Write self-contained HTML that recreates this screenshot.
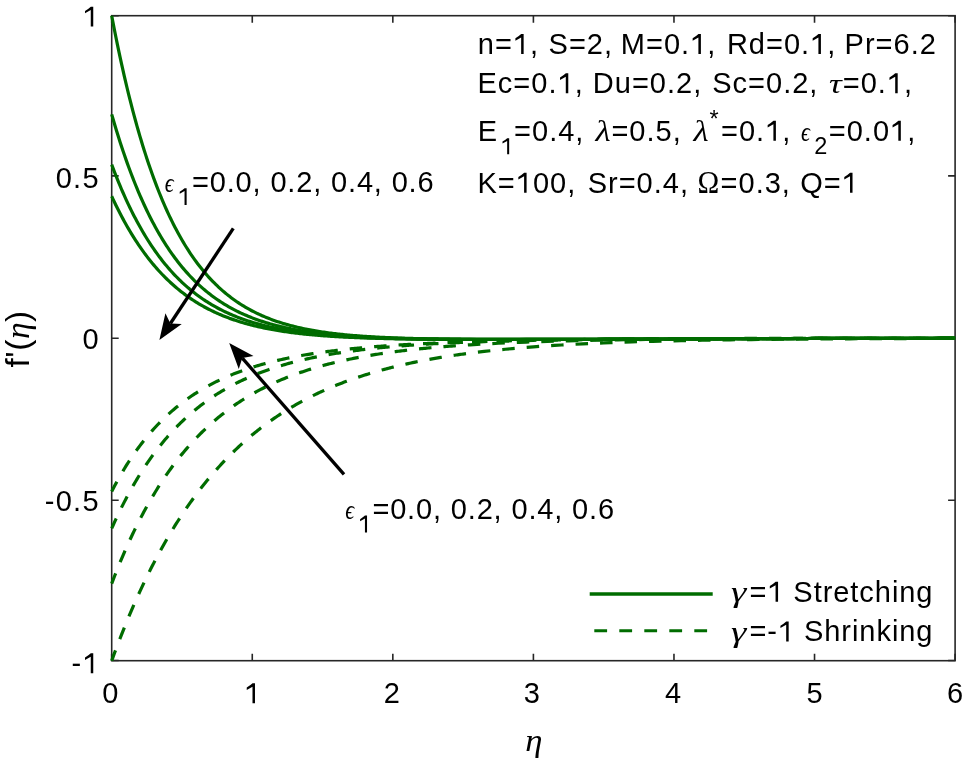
<!DOCTYPE html><html><head><meta charset="utf-8"><style>
html,body{margin:0;padding:0;background:#fff;width:968px;height:762px;overflow:hidden}
svg{display:block;will-change:transform}
text{font-family:"Liberation Sans",sans-serif;fill:#000;font-kerning:none}
.gk{font-family:"Liberation Serif",serif;font-style:italic}
.gu{font-family:"Liberation Serif",serif}
.o1{fill:none}
</style></head><body>
<svg width="968" height="762" viewBox="0 0 968 762">
<rect width="968" height="762" fill="#fff"/>
<g stroke="#262626" stroke-width="1.6" fill="none">
<rect x="111.70" y="15.70" width="843.40" height="645.00"/>
<path d="M111.70 660.70V653.70 M111.70 15.70V22.70 M252.27 660.70V653.70 M252.27 15.70V22.70 M392.83 660.70V653.70 M392.83 15.70V22.70 M533.40 660.70V653.70 M533.40 15.70V22.70 M673.97 660.70V653.70 M673.97 15.70V22.70 M814.53 660.70V653.70 M814.53 15.70V22.70 M955.10 660.70V653.70 M955.10 15.70V22.70 M111.70 15.70H118.70 M955.10 15.70H948.10 M111.70 175.90H118.70 M955.10 175.90H948.10 M111.70 338.20H118.70 M955.10 338.20H948.10 M111.70 500.20H118.70 M955.10 500.20H948.10 M111.70 660.50H118.70 M955.10 660.50H948.10 "/>
</g>
<g fill="none" stroke="#006c00" stroke-width="3.2" stroke-linejoin="round">
<path d="M111.70 660.70 L113.11 656.84 L114.51 653.02 L115.92 649.25 L117.32 645.52 L118.73 641.84 L120.13 638.21 L121.54 634.61 L122.95 631.06 L124.35 627.55 L125.76 624.09 L127.16 620.66 L128.57 617.28 L129.97 613.94 L131.38 610.64 L132.78 607.37 L134.19 604.15 L135.60 600.96 L137.00 597.82 L138.41 594.71 L139.81 591.63 L141.22 588.60 L142.62 585.60 L144.03 582.64 L145.44 579.71 L146.84 576.82 L148.25 573.96 L149.65 571.13 L151.06 568.34 L152.46 565.59 L153.87 562.86 L155.28 560.17 L156.68 557.51 L158.09 554.89 L159.49 552.29 L160.90 549.73 L162.30 547.19 L163.71 544.69 L165.12 542.22 L166.52 539.77 L167.93 537.36 L169.33 534.97 L170.74 532.62 L172.14 530.29 L173.55 527.99 L174.95 525.71 L176.36 523.47 L177.77 521.25 L179.17 519.06 L180.58 516.89 L181.98 514.75 L183.39 512.64 L184.79 510.55 L186.20 508.48 L187.61 506.44 L189.01 504.43 L190.42 502.44 L191.82 500.47 L193.23 498.53 L194.63 496.60 L196.04 494.71 L197.45 492.83 L198.85 490.98 L200.26 489.15 L201.66 487.34 L203.07 485.56 L204.47 483.79 L205.88 482.05 L207.29 480.32 L208.69 478.62 L210.10 476.94 L211.50 475.28 L212.91 473.64 L214.31 472.01 L215.72 470.41 L217.12 468.83 L218.53 467.26 L219.94 465.72 L221.34 464.19 L222.75 462.68 L224.15 461.19 L225.56 459.72 L226.96 458.26 L228.37 456.82 L229.78 455.40 L231.18 454.00 L232.59 452.61 L233.99 451.24 L235.40 449.89 L236.80 448.55 L238.21 447.23 L239.62 445.92 L241.02 444.63 L242.43 443.36 L243.83 442.10 L245.24 440.85 L246.64 439.62 L248.05 438.41 L249.46 437.21 L250.86 436.02 L252.27 434.85 L253.67 433.69 L255.08 432.55 L256.48 431.42 L257.89 430.30 L259.30 429.20 L260.70 428.11 L262.11 427.03 L263.51 425.97 L264.92 424.92 L266.32 423.88 L267.73 422.85 L269.13 421.84 L270.54 420.84 L271.95 419.85 L273.35 418.87 L274.76 417.90 L276.16 416.95 L277.57 416.00 L278.97 415.07 L280.38 414.15 L281.79 413.24 L283.19 412.34 L284.60 411.46 L286.00 410.58 L287.41 409.71 L288.81 408.85 L290.22 408.01 L291.63 407.17 L293.03 406.35 L294.44 405.53 L295.84 404.72 L297.25 403.93 L298.65 403.14 L300.06 402.36 L301.47 401.59 L302.87 400.83 L304.28 400.08 L305.68 399.34 L307.09 398.61 L308.49 397.89 L309.90 397.17 L311.30 396.47 L312.71 395.77 L314.12 395.08 L315.52 394.40 L316.93 393.72 L318.33 393.06 L319.74 392.40 L321.14 391.75 L322.55 391.11 L323.96 390.48 L325.36 389.85 L326.77 389.23 L328.17 388.62 L329.58 388.02 L330.98 387.42 L332.39 386.83 L333.80 386.25 L335.20 385.67 L336.61 385.10 L338.01 384.54 L339.42 383.99 L340.82 383.44 L342.23 382.90 L343.64 382.36 L345.04 381.83 L346.45 381.31 L347.85 380.79 L349.26 380.28 L350.66 379.78 L352.07 379.28 L353.47 378.79 L354.88 378.30 L356.29 377.82 L357.69 377.35 L359.10 376.88 L360.50 376.42 L361.91 375.96 L363.31 375.51 L364.72 375.06 L366.13 374.62 L367.53 374.18 L368.94 373.75 L370.34 373.32 L371.75 372.90 L373.15 372.49 L374.56 372.08 L375.97 371.67 L377.37 371.27 L378.78 370.87 L380.18 370.48 L381.59 370.10 L382.99 369.71 L384.40 369.34 L385.80 368.96 L387.21 368.60 L388.62 368.23 L390.02 367.87 L391.43 367.52 L392.83 367.17 L394.24 366.82 L395.64 366.48 L397.05 366.14 L398.46 365.80 L399.86 365.47 L401.27 365.15 L402.67 364.82 L404.08 364.50 L405.48 364.19 L406.89 363.88 L408.30 363.57 L409.70 363.27 L411.11 362.97 L412.51 362.67 L413.92 362.38 L415.32 362.09 L416.73 361.80 L418.14 361.52 L419.54 361.24 L420.95 360.96 L422.35 360.69 L423.76 360.42 L425.16 360.15 L426.57 359.89 L427.97 359.63 L429.38 359.37 L430.79 359.12 L432.19 358.87 L433.60 358.62 L435.00 358.38 L436.41 358.14 L437.81 357.90 L439.22 357.66 L440.63 357.43 L442.03 357.20 L443.44 356.97 L444.84 356.75 L446.25 356.52 L447.65 356.30 L449.06 356.09 L450.47 355.87 L451.87 355.66 L453.28 355.45 L454.68 355.25 L456.09 355.04 L457.49 354.84 L458.90 354.64 L460.31 354.44 L461.71 354.25 L463.12 354.06 L470.14 353.13 L477.17 352.26 L484.20 351.43 L491.23 350.66 L498.26 349.93 L505.29 349.25 L512.32 348.60 L519.34 347.99 L526.37 347.42 L533.40 346.88 L540.43 346.37 L547.46 345.90 L554.49 345.45 L561.51 345.02 L568.54 344.62 L575.57 344.25 L582.60 343.89 L589.63 343.56 L596.65 343.25 L603.68 342.95 L610.71 342.67 L617.74 342.41 L624.77 342.17 L631.80 341.93 L638.83 341.72 L645.85 341.51 L652.88 341.32 L659.91 341.13 L666.94 340.96 L673.97 340.80 L681.00 340.65 L688.02 340.51 L695.05 340.37 L702.08 340.24 L709.11 340.12 L716.14 340.01 L723.16 339.91 L730.19 339.81 L737.22 339.71 L744.25 339.62 L751.28 339.54 L758.31 339.46 L765.34 339.39 L772.36 339.32 L779.39 339.25 L786.42 339.19 L793.45 339.13 L800.48 339.08 L807.50 339.03 L814.53 338.98 L821.56 338.93 L828.59 338.89 L835.62 338.85 L842.65 338.81 L849.67 338.78 L856.70 338.74 L863.73 338.71 L870.76 338.68 L877.79 338.65 L884.82 338.63 L891.85 338.60 L898.87 338.58 L905.90 338.56 L912.93 338.54 L919.96 338.52 L926.99 338.50 L934.01 338.48 L941.04 338.46 L948.07 338.45 L955.10 338.43" stroke-dasharray="12.5 12" stroke-dashoffset="1.5"/>
<path d="M111.70 583.62 L113.11 579.92 L114.51 576.28 L115.92 572.69 L117.32 569.16 L118.73 565.68 L120.13 562.26 L121.54 558.89 L122.95 555.58 L124.35 552.31 L125.76 549.10 L127.16 545.94 L128.57 542.82 L129.97 539.75 L131.38 536.73 L132.78 533.76 L134.19 530.84 L135.60 527.96 L137.00 525.12 L138.41 522.33 L139.81 519.58 L141.22 516.87 L142.62 514.21 L144.03 511.58 L145.44 509.00 L146.84 506.46 L148.25 503.95 L149.65 501.49 L151.06 499.06 L152.46 496.67 L153.87 494.31 L155.28 492.00 L156.68 489.71 L158.09 487.47 L159.49 485.25 L160.90 483.08 L162.30 480.93 L163.71 478.82 L165.12 476.74 L166.52 474.69 L167.93 472.68 L169.33 470.69 L170.74 468.73 L172.14 466.81 L173.55 464.91 L174.95 463.05 L176.36 461.21 L177.77 459.40 L179.17 457.61 L180.58 455.86 L181.98 454.13 L183.39 452.43 L184.79 450.75 L186.20 449.10 L187.61 447.47 L189.01 445.87 L190.42 444.29 L191.82 442.74 L193.23 441.21 L194.63 439.70 L196.04 438.22 L197.45 436.76 L198.85 435.32 L200.26 433.90 L201.66 432.51 L203.07 431.13 L204.47 429.78 L205.88 428.45 L207.29 427.13 L208.69 425.84 L210.10 424.56 L211.50 423.31 L212.91 422.07 L214.31 420.86 L215.72 419.66 L217.12 418.48 L218.53 417.31 L219.94 416.17 L221.34 415.04 L222.75 413.93 L224.15 412.83 L225.56 411.75 L226.96 410.69 L228.37 409.65 L229.78 408.61 L231.18 407.60 L232.59 406.60 L233.99 405.61 L235.40 404.64 L236.80 403.69 L238.21 402.75 L239.62 401.82 L241.02 400.90 L242.43 400.00 L243.83 399.12 L245.24 398.24 L246.64 397.38 L248.05 396.54 L249.46 395.70 L250.86 394.88 L252.27 394.07 L253.67 393.27 L255.08 392.48 L256.48 391.71 L257.89 390.94 L259.30 390.19 L260.70 389.45 L262.11 388.72 L263.51 388.00 L264.92 387.29 L266.32 386.59 L267.73 385.91 L269.13 385.23 L270.54 384.56 L271.95 383.90 L273.35 383.25 L274.76 382.62 L276.16 381.99 L277.57 381.37 L278.97 380.76 L280.38 380.15 L281.79 379.56 L283.19 378.98 L284.60 378.40 L286.00 377.83 L287.41 377.27 L288.81 376.72 L290.22 376.18 L291.63 375.65 L293.03 375.12 L294.44 374.60 L295.84 374.09 L297.25 373.58 L298.65 373.09 L300.06 372.60 L301.47 372.12 L302.87 371.64 L304.28 371.17 L305.68 370.71 L307.09 370.26 L308.49 369.81 L309.90 369.37 L311.30 368.93 L312.71 368.50 L314.12 368.08 L315.52 367.66 L316.93 367.25 L318.33 366.85 L319.74 366.45 L321.14 366.05 L322.55 365.67 L323.96 365.29 L325.36 364.91 L326.77 364.54 L328.17 364.17 L329.58 363.81 L330.98 363.46 L332.39 363.11 L333.80 362.76 L335.20 362.42 L336.61 362.09 L338.01 361.76 L339.42 361.43 L340.82 361.11 L342.23 360.80 L343.64 360.48 L345.04 360.18 L346.45 359.87 L347.85 359.58 L349.26 359.28 L350.66 358.99 L352.07 358.71 L353.47 358.42 L354.88 358.15 L356.29 357.87 L357.69 357.60 L359.10 357.34 L360.50 357.08 L361.91 356.82 L363.31 356.56 L364.72 356.31 L366.13 356.06 L367.53 355.82 L368.94 355.58 L370.34 355.34 L371.75 355.11 L373.15 354.88 L374.56 354.65 L375.97 354.43 L377.37 354.21 L378.78 353.99 L380.18 353.78 L381.59 353.56 L382.99 353.36 L384.40 353.15 L385.80 352.95 L387.21 352.75 L388.62 352.55 L390.02 352.36 L391.43 352.17 L392.83 351.98 L394.24 351.79 L395.64 351.61 L397.05 351.43 L398.46 351.25 L399.86 351.07 L401.27 350.90 L402.67 350.73 L404.08 350.56 L405.48 350.39 L406.89 350.23 L408.30 350.07 L409.70 349.91 L411.11 349.75 L412.51 349.60 L413.92 349.44 L415.32 349.29 L416.73 349.15 L418.14 349.00 L419.54 348.85 L420.95 348.71 L422.35 348.57 L423.76 348.43 L425.16 348.30 L426.57 348.16 L427.97 348.03 L429.38 347.90 L430.79 347.77 L432.19 347.64 L433.60 347.52 L435.00 347.39 L436.41 347.27 L437.81 347.15 L439.22 347.03 L440.63 346.92 L442.03 346.80 L443.44 346.69 L444.84 346.58 L446.25 346.46 L447.65 346.36 L449.06 346.25 L450.47 346.14 L451.87 346.04 L453.28 345.93 L454.68 345.83 L456.09 345.73 L457.49 345.63 L458.90 345.53 L460.31 345.44 L461.71 345.34 L463.12 345.25 L470.14 344.80 L477.17 344.38 L484.20 343.98 L491.23 343.61 L498.26 343.27 L505.29 342.94 L512.32 342.64 L519.34 342.36 L526.37 342.09 L533.40 341.84 L540.43 341.61 L547.46 341.39 L554.49 341.19 L561.51 341.00 L568.54 340.82 L575.57 340.65 L582.60 340.50 L589.63 340.35 L596.65 340.21 L603.68 340.08 L610.71 339.96 L617.74 339.85 L624.77 339.74 L631.80 339.65 L638.83 339.55 L645.85 339.47 L652.88 339.39 L659.91 339.31 L666.94 339.24 L673.97 339.17 L681.00 339.11 L688.02 339.05 L695.05 339.00 L702.08 338.95 L709.11 338.90 L716.14 338.86 L723.16 338.81 L730.19 338.77 L737.22 338.74 L744.25 338.70 L751.28 338.67 L758.31 338.64 L765.34 338.61 L772.36 338.59 L779.39 338.56 L786.42 338.54 L793.45 338.52 L800.48 338.50 L807.50 338.48 L814.53 338.46 L821.56 338.44 L828.59 338.43 L835.62 338.41 L842.65 338.40 L849.67 338.39 L856.70 338.37 L863.73 338.36 L870.76 338.35 L877.79 338.34 L884.82 338.33 L891.85 338.33 L898.87 338.32 L905.90 338.31 L912.93 338.30 L919.96 338.30 L926.99 338.29 L934.01 338.28 L941.04 338.28 L948.07 338.27 L955.10 338.27" stroke-dasharray="12.5 12" stroke-dashoffset="1.5"/>
<path d="M111.70 528.47 L113.11 525.31 L114.51 522.19 L115.92 519.13 L117.32 516.13 L118.73 513.17 L120.13 510.27 L121.54 507.41 L122.95 504.61 L124.35 501.85 L125.76 499.15 L127.16 496.48 L128.57 493.87 L129.97 491.30 L131.38 488.77 L132.78 486.29 L134.19 483.85 L135.60 481.45 L137.00 479.09 L138.41 476.78 L139.81 474.50 L141.22 472.26 L142.62 470.06 L144.03 467.90 L145.44 465.78 L146.84 463.69 L148.25 461.64 L149.65 459.62 L151.06 457.64 L152.46 455.69 L153.87 453.77 L155.28 451.89 L156.68 450.03 L158.09 448.21 L159.49 446.42 L160.90 444.67 L162.30 442.94 L163.71 441.24 L165.12 439.57 L166.52 437.92 L167.93 436.31 L169.33 434.72 L170.74 433.16 L172.14 431.63 L173.55 430.12 L174.95 428.63 L176.36 427.18 L177.77 425.74 L179.17 424.33 L180.58 422.95 L181.98 421.59 L183.39 420.25 L184.79 418.93 L186.20 417.63 L187.61 416.36 L189.01 415.11 L190.42 413.88 L191.82 412.67 L193.23 411.48 L194.63 410.31 L196.04 409.16 L197.45 408.03 L198.85 406.91 L200.26 405.82 L201.66 404.74 L203.07 403.68 L204.47 402.64 L205.88 401.62 L207.29 400.62 L208.69 399.63 L210.10 398.65 L211.50 397.70 L212.91 396.76 L214.31 395.83 L215.72 394.92 L217.12 394.02 L218.53 393.14 L219.94 392.28 L221.34 391.43 L222.75 390.59 L224.15 389.77 L225.56 388.96 L226.96 388.16 L228.37 387.38 L229.78 386.61 L231.18 385.85 L232.59 385.10 L233.99 384.37 L235.40 383.65 L236.80 382.94 L238.21 382.24 L239.62 381.55 L241.02 380.88 L242.43 380.21 L243.83 379.56 L245.24 378.92 L246.64 378.28 L248.05 377.66 L249.46 377.05 L250.86 376.45 L252.27 375.86 L253.67 375.27 L255.08 374.70 L256.48 374.14 L257.89 373.58 L259.30 373.03 L260.70 372.50 L262.11 371.97 L263.51 371.45 L264.92 370.94 L266.32 370.44 L267.73 369.94 L269.13 369.45 L270.54 368.97 L271.95 368.50 L273.35 368.04 L274.76 367.58 L276.16 367.13 L277.57 366.69 L278.97 366.26 L280.38 365.83 L281.79 365.41 L283.19 364.99 L284.60 364.59 L286.00 364.19 L287.41 363.79 L288.81 363.40 L290.22 363.02 L291.63 362.64 L293.03 362.27 L294.44 361.91 L295.84 361.55 L297.25 361.20 L298.65 360.85 L300.06 360.51 L301.47 360.17 L302.87 359.84 L304.28 359.52 L305.68 359.20 L307.09 358.88 L308.49 358.57 L309.90 358.26 L311.30 357.96 L312.71 357.67 L314.12 357.38 L315.52 357.09 L316.93 356.81 L318.33 356.53 L319.74 356.26 L321.14 355.99 L322.55 355.72 L323.96 355.46 L325.36 355.20 L326.77 354.95 L328.17 354.70 L329.58 354.46 L330.98 354.22 L332.39 353.98 L333.80 353.75 L335.20 353.52 L336.61 353.29 L338.01 353.07 L339.42 352.85 L340.82 352.63 L342.23 352.42 L343.64 352.21 L345.04 352.00 L346.45 351.80 L347.85 351.60 L349.26 351.41 L350.66 351.21 L352.07 351.02 L353.47 350.83 L354.88 350.65 L356.29 350.47 L357.69 350.29 L359.10 350.11 L360.50 349.94 L361.91 349.77 L363.31 349.60 L364.72 349.43 L366.13 349.27 L367.53 349.11 L368.94 348.95 L370.34 348.80 L371.75 348.64 L373.15 348.49 L374.56 348.34 L375.97 348.20 L377.37 348.05 L378.78 347.91 L380.18 347.77 L381.59 347.63 L382.99 347.50 L384.40 347.36 L385.80 347.23 L387.21 347.10 L388.62 346.97 L390.02 346.85 L391.43 346.72 L392.83 346.60 L394.24 346.48 L395.64 346.36 L397.05 346.25 L398.46 346.13 L399.86 346.02 L401.27 345.91 L402.67 345.80 L404.08 345.69 L405.48 345.58 L406.89 345.48 L408.30 345.38 L409.70 345.27 L411.11 345.17 L412.51 345.08 L413.92 344.98 L415.32 344.88 L416.73 344.79 L418.14 344.70 L419.54 344.60 L420.95 344.51 L422.35 344.43 L423.76 344.34 L425.16 344.25 L426.57 344.17 L427.97 344.08 L429.38 344.00 L430.79 343.92 L432.19 343.84 L433.60 343.76 L435.00 343.68 L436.41 343.61 L437.81 343.53 L439.22 343.46 L440.63 343.39 L442.03 343.31 L443.44 343.24 L444.84 343.17 L446.25 343.10 L447.65 343.04 L449.06 342.97 L450.47 342.90 L451.87 342.84 L453.28 342.77 L454.68 342.71 L456.09 342.65 L457.49 342.59 L458.90 342.53 L460.31 342.47 L461.71 342.41 L463.12 342.35 L470.14 342.07 L477.17 341.82 L484.20 341.58 L491.23 341.35 L498.26 341.14 L505.29 340.94 L512.32 340.76 L519.34 340.59 L526.37 340.43 L533.40 340.28 L540.43 340.14 L547.46 340.01 L554.49 339.89 L561.51 339.78 L568.54 339.67 L575.57 339.58 L582.60 339.48 L589.63 339.40 L596.65 339.32 L603.68 339.24 L610.71 339.17 L617.74 339.11 L624.77 339.05 L631.80 338.99 L638.83 338.94 L645.85 338.89 L652.88 338.84 L659.91 338.80 L666.94 338.76 L673.97 338.72 L681.00 338.69 L688.02 338.66 L695.05 338.63 L702.08 338.60 L709.11 338.57 L716.14 338.55 L723.16 338.52 L730.19 338.50 L737.22 338.48 L744.25 338.46 L751.28 338.45 L758.31 338.43 L765.34 338.41 L772.36 338.40 L779.39 338.39 L786.42 338.37 L793.45 338.36 L800.48 338.35 L807.50 338.34 L814.53 338.33 L821.56 338.32 L828.59 338.31 L835.62 338.31 L842.65 338.30 L849.67 338.29 L856.70 338.29 L863.73 338.28 L870.76 338.28 L877.79 338.27 L884.82 338.27 L891.85 338.26 L898.87 338.26 L905.90 338.25 L912.93 338.25 L919.96 338.25 L926.99 338.24 L934.01 338.24 L941.04 338.24 L948.07 338.24 L955.10 338.23" stroke-dasharray="12.5 12" stroke-dashoffset="1.5"/>
<path d="M111.70 491.39 L113.11 488.67 L114.51 486.01 L115.92 483.40 L117.32 480.83 L118.73 478.32 L120.13 475.85 L121.54 473.43 L122.95 471.06 L124.35 468.73 L125.76 466.45 L127.16 464.21 L128.57 462.01 L129.97 459.85 L131.38 457.74 L132.78 455.66 L134.19 453.62 L135.60 451.62 L137.00 449.66 L138.41 447.74 L139.81 445.85 L141.22 443.99 L142.62 442.18 L144.03 440.39 L145.44 438.64 L146.84 436.92 L148.25 435.23 L149.65 433.58 L151.06 431.95 L152.46 430.36 L153.87 428.79 L155.28 427.26 L156.68 425.75 L158.09 424.27 L159.49 422.81 L160.90 421.39 L162.30 419.99 L163.71 418.61 L165.12 417.26 L166.52 415.94 L167.93 414.64 L169.33 413.36 L170.74 412.11 L172.14 410.88 L173.55 409.67 L174.95 408.48 L176.36 407.31 L177.77 406.17 L179.17 405.05 L180.58 403.94 L181.98 402.86 L183.39 401.80 L184.79 400.75 L186.20 399.73 L187.61 398.72 L189.01 397.73 L190.42 396.76 L191.82 395.80 L193.23 394.87 L194.63 393.95 L196.04 393.04 L197.45 392.15 L198.85 391.28 L200.26 390.42 L201.66 389.58 L203.07 388.76 L204.47 387.94 L205.88 387.15 L207.29 386.36 L208.69 385.59 L210.10 384.84 L211.50 384.09 L212.91 383.36 L214.31 382.64 L215.72 381.94 L217.12 381.25 L218.53 380.57 L219.94 379.90 L221.34 379.24 L222.75 378.59 L224.15 377.96 L225.56 377.34 L226.96 376.72 L228.37 376.12 L229.78 375.53 L231.18 374.95 L232.59 374.38 L233.99 373.81 L235.40 373.26 L236.80 372.72 L238.21 372.19 L239.62 371.66 L241.02 371.15 L242.43 370.64 L243.83 370.14 L245.24 369.65 L246.64 369.17 L248.05 368.70 L249.46 368.23 L250.86 367.78 L252.27 367.33 L253.67 366.89 L255.08 366.45 L256.48 366.02 L257.89 365.60 L259.30 365.19 L260.70 364.78 L262.11 364.39 L263.51 363.99 L264.92 363.61 L266.32 363.23 L267.73 362.85 L269.13 362.49 L270.54 362.13 L271.95 361.77 L273.35 361.42 L274.76 361.08 L276.16 360.74 L277.57 360.41 L278.97 360.08 L280.38 359.76 L281.79 359.44 L283.19 359.13 L284.60 358.83 L286.00 358.53 L287.41 358.23 L288.81 357.94 L290.22 357.65 L291.63 357.37 L293.03 357.09 L294.44 356.82 L295.84 356.55 L297.25 356.29 L298.65 356.03 L300.06 355.78 L301.47 355.52 L302.87 355.28 L304.28 355.03 L305.68 354.79 L307.09 354.56 L308.49 354.33 L309.90 354.10 L311.30 353.87 L312.71 353.65 L314.12 353.44 L315.52 353.22 L316.93 353.01 L318.33 352.80 L319.74 352.60 L321.14 352.40 L322.55 352.20 L323.96 352.01 L325.36 351.82 L326.77 351.63 L328.17 351.44 L329.58 351.26 L330.98 351.08 L332.39 350.90 L333.80 350.73 L335.20 350.56 L336.61 350.39 L338.01 350.22 L339.42 350.06 L340.82 349.90 L342.23 349.74 L343.64 349.58 L345.04 349.43 L346.45 349.28 L347.85 349.13 L349.26 348.98 L350.66 348.84 L352.07 348.69 L353.47 348.55 L354.88 348.42 L356.29 348.28 L357.69 348.15 L359.10 348.02 L360.50 347.89 L361.91 347.76 L363.31 347.63 L364.72 347.51 L366.13 347.39 L367.53 347.27 L368.94 347.15 L370.34 347.03 L371.75 346.92 L373.15 346.80 L374.56 346.69 L375.97 346.58 L377.37 346.47 L378.78 346.37 L380.18 346.26 L381.59 346.16 L382.99 346.06 L384.40 345.95 L385.80 345.86 L387.21 345.76 L388.62 345.66 L390.02 345.57 L391.43 345.47 L392.83 345.38 L394.24 345.29 L395.64 345.20 L397.05 345.11 L398.46 345.03 L399.86 344.94 L401.27 344.86 L402.67 344.78 L404.08 344.69 L405.48 344.61 L406.89 344.53 L408.30 344.46 L409.70 344.38 L411.11 344.30 L412.51 344.23 L413.92 344.15 L415.32 344.08 L416.73 344.01 L418.14 343.94 L419.54 343.87 L420.95 343.80 L422.35 343.73 L423.76 343.67 L425.16 343.60 L426.57 343.54 L427.97 343.47 L429.38 343.41 L430.79 343.35 L432.19 343.28 L433.60 343.22 L435.00 343.16 L436.41 343.11 L437.81 343.05 L439.22 342.99 L440.63 342.93 L442.03 342.88 L443.44 342.82 L444.84 342.77 L446.25 342.72 L447.65 342.66 L449.06 342.61 L450.47 342.56 L451.87 342.51 L453.28 342.46 L454.68 342.41 L456.09 342.36 L457.49 342.32 L458.90 342.27 L460.31 342.22 L461.71 342.18 L463.12 342.13 L470.14 341.91 L477.17 341.71 L484.20 341.51 L491.23 341.33 L498.26 341.16 L505.29 340.99 L512.32 340.84 L519.34 340.69 L526.37 340.55 L533.40 340.42 L540.43 340.30 L547.46 340.18 L554.49 340.07 L561.51 339.97 L568.54 339.87 L575.57 339.78 L582.60 339.69 L589.63 339.61 L596.65 339.53 L603.68 339.46 L610.71 339.39 L617.74 339.32 L624.77 339.26 L631.80 339.20 L638.83 339.15 L645.85 339.09 L652.88 339.04 L659.91 339.00 L666.94 338.95 L673.97 338.91 L681.00 338.87 L688.02 338.83 L695.05 338.80 L702.08 338.77 L709.11 338.73 L716.14 338.71 L723.16 338.68 L730.19 338.65 L737.22 338.63 L744.25 338.60 L751.28 338.58 L758.31 338.56 L765.34 338.54 L772.36 338.52 L779.39 338.50 L786.42 338.49 L793.45 338.47 L800.48 338.45 L807.50 338.44 L814.53 338.43 L821.56 338.41 L828.59 338.40 L835.62 338.39 L842.65 338.38 L849.67 338.37 L856.70 338.36 L863.73 338.35 L870.76 338.34 L877.79 338.34 L884.82 338.33 L891.85 338.32 L898.87 338.31 L905.90 338.31 L912.93 338.30 L919.96 338.30 L926.99 338.29 L934.01 338.29 L941.04 338.28 L948.07 338.28 L955.10 338.27" stroke-dasharray="12.5 12" stroke-dashoffset="1.5"/>
<path d="M111.70 15.70 L113.11 23.04 L114.51 30.22 L115.92 37.24 L117.32 44.12 L118.73 50.84 L120.13 57.42 L121.54 63.86 L122.95 70.16 L124.35 76.32 L125.76 82.35 L127.16 88.25 L128.57 94.01 L129.97 99.66 L131.38 105.18 L132.78 110.57 L134.19 115.85 L135.60 121.02 L137.00 126.07 L138.41 131.01 L139.81 135.84 L141.22 140.57 L142.62 145.19 L144.03 149.70 L145.44 154.12 L146.84 158.44 L148.25 162.67 L149.65 166.80 L151.06 170.84 L152.46 174.79 L153.87 178.65 L155.28 182.42 L156.68 186.11 L158.09 189.72 L159.49 193.25 L160.90 196.69 L162.30 200.06 L163.71 203.36 L165.12 206.58 L166.52 209.73 L167.93 212.80 L169.33 215.81 L170.74 218.75 L172.14 221.62 L173.55 224.43 L174.95 227.17 L176.36 229.85 L177.77 232.47 L179.17 235.03 L180.58 237.53 L181.98 239.98 L183.39 242.37 L184.79 244.70 L186.20 246.98 L187.61 249.21 L189.01 251.38 L190.42 253.51 L191.82 255.59 L193.23 257.62 L194.63 259.60 L196.04 261.54 L197.45 263.43 L198.85 265.28 L200.26 267.08 L201.66 268.85 L203.07 270.57 L204.47 272.25 L205.88 273.89 L207.29 275.50 L208.69 277.06 L210.10 278.59 L211.50 280.09 L212.91 281.55 L214.31 282.97 L215.72 284.37 L217.12 285.72 L218.53 287.05 L219.94 288.35 L221.34 289.61 L222.75 290.85 L224.15 292.05 L225.56 293.23 L226.96 294.38 L228.37 295.50 L229.78 296.60 L231.18 297.67 L232.59 298.71 L233.99 299.73 L235.40 300.73 L236.80 301.70 L238.21 302.65 L239.62 303.57 L241.02 304.48 L242.43 305.36 L243.83 306.22 L245.24 307.06 L246.64 307.88 L248.05 308.68 L249.46 309.46 L250.86 310.22 L252.27 310.96 L253.67 311.69 L255.08 312.39 L256.48 313.08 L257.89 313.76 L259.30 314.42 L260.70 315.06 L262.11 315.68 L263.51 316.29 L264.92 316.89 L266.32 317.47 L267.73 318.04 L269.13 318.59 L270.54 319.13 L271.95 319.66 L273.35 320.17 L274.76 320.67 L276.16 321.16 L277.57 321.64 L278.97 322.10 L280.38 322.56 L281.79 323.00 L283.19 323.43 L284.60 323.85 L286.00 324.26 L287.41 324.66 L288.81 325.05 L290.22 325.43 L291.63 325.80 L293.03 326.16 L294.44 326.52 L295.84 326.86 L297.25 327.20 L298.65 327.52 L300.06 327.84 L301.47 328.15 L302.87 328.46 L304.28 328.75 L305.68 329.04 L307.09 329.32 L308.49 329.60 L309.90 329.86 L311.30 330.12 L312.71 330.38 L314.12 330.63 L315.52 330.87 L316.93 331.10 L318.33 331.33 L319.74 331.55 L321.14 331.77 L322.55 331.98 L323.96 332.19 L325.36 332.39 L326.77 332.59 L328.17 332.78 L329.58 332.97 L330.98 333.15 L332.39 333.32 L333.80 333.50 L335.20 333.66 L336.61 333.83 L338.01 333.99 L339.42 334.14 L340.82 334.29 L342.23 334.44 L343.64 334.59 L345.04 334.73 L346.45 334.86 L347.85 334.99 L349.26 335.12 L350.66 335.25 L352.07 335.37 L353.47 335.49 L354.88 335.61 L356.29 335.72 L357.69 335.83 L359.10 335.94 L360.50 336.04 L361.91 336.15 L363.31 336.25 L364.72 336.34 L366.13 336.44 L367.53 336.53 L368.94 336.62 L370.34 336.70 L371.75 336.79 L373.15 336.87 L374.56 336.95 L375.97 337.03 L377.37 337.10 L378.78 337.18 L380.18 337.25 L381.59 337.32 L382.99 337.39 L384.40 337.45 L385.80 337.52 L387.21 337.58 L388.62 337.64 L390.02 337.70 L391.43 337.76 L392.83 337.81 L394.24 337.87 L395.64 337.92 L397.05 337.97 L398.46 338.02 L399.86 338.07 L401.27 338.12 L402.67 338.16 L404.08 338.21 L405.48 338.25 L406.89 338.29 L408.30 338.33 L409.70 338.37 L411.11 338.41 L412.51 338.45 L413.92 338.48 L415.32 338.52 L416.73 338.55 L418.14 338.59 L419.54 338.62 L420.95 338.65 L422.35 338.68 L423.76 338.71 L425.16 338.74 L426.57 338.77 L427.97 338.79 L429.38 338.82 L430.79 338.84 L432.19 338.87 L433.60 338.89 L435.00 338.91 L436.41 338.94 L437.81 338.96 L439.22 338.98 L440.63 339.00 L442.03 339.02 L443.44 339.04 L444.84 339.06 L446.25 339.07 L447.65 339.09 L449.06 339.11 L450.47 339.12 L451.87 339.14 L453.28 339.15 L454.68 339.17 L456.09 339.18 L457.49 339.19 L458.90 339.21 L460.31 339.22 L461.71 339.23 L463.12 339.24 L470.14 339.29 L477.17 339.33 L484.20 339.36 L491.23 339.38 L498.26 339.40 L505.29 339.41 L512.32 339.42 L519.34 339.42 L526.37 339.41 L533.40 339.41 L540.43 339.40 L547.46 339.39 L554.49 339.37 L561.51 339.35 L568.54 339.34 L575.57 339.31 L582.60 339.29 L589.63 339.27 L596.65 339.25 L603.68 339.22 L610.71 339.20 L617.74 339.17 L624.77 339.14 L631.80 339.11 L638.83 339.09 L645.85 339.06 L652.88 339.03 L659.91 339.00 L666.94 338.98 L673.97 338.95 L681.00 338.92 L688.02 338.89 L695.05 338.87 L702.08 338.84 L709.11 338.81 L716.14 338.79 L723.16 338.76 L730.19 338.74 L737.22 338.71 L744.25 338.69 L751.28 338.66 L758.31 338.64 L765.34 338.62 L772.36 338.59 L779.39 338.57 L786.42 338.55 L793.45 338.53 L800.48 338.51 L807.50 338.49 L814.53 338.47 L821.56 338.45 L828.59 338.43 L835.62 338.42 L842.65 338.40 L849.67 338.38 L856.70 338.37 L863.73 338.35 L870.76 338.34 L877.79 338.32 L884.82 338.31 L891.85 338.30 L898.87 338.28 L905.90 338.27 L912.93 338.26 L919.96 338.25 L926.99 338.24 L934.01 338.23 L941.04 338.22 L948.07 338.21 L955.10 338.20"/>
<path d="M111.70 114.38 L113.11 119.26 L114.51 124.03 L115.92 128.71 L117.32 133.29 L118.73 137.78 L120.13 142.18 L121.54 146.49 L122.95 150.71 L124.35 154.84 L125.76 158.89 L127.16 162.86 L128.57 166.74 L129.97 170.54 L131.38 174.27 L132.78 177.91 L134.19 181.49 L135.60 184.98 L137.00 188.41 L138.41 191.76 L139.81 195.04 L141.22 198.26 L142.62 201.41 L144.03 204.49 L145.44 207.50 L146.84 210.46 L148.25 213.35 L149.65 216.18 L151.06 218.95 L152.46 221.66 L153.87 224.31 L155.28 226.91 L156.68 229.45 L158.09 231.94 L159.49 234.38 L160.90 236.76 L162.30 239.09 L163.71 241.38 L165.12 243.61 L166.52 245.80 L167.93 247.93 L169.33 250.03 L170.74 252.07 L172.14 254.08 L173.55 256.04 L174.95 257.95 L176.36 259.83 L177.77 261.66 L179.17 263.46 L180.58 265.21 L181.98 266.93 L183.39 268.61 L184.79 270.26 L186.20 271.86 L187.61 273.43 L189.01 274.97 L190.42 276.48 L191.82 277.95 L193.23 279.38 L194.63 280.79 L196.04 282.17 L197.45 283.51 L198.85 284.83 L200.26 286.11 L201.66 287.37 L203.07 288.60 L204.47 289.80 L205.88 290.97 L207.29 292.12 L208.69 293.25 L210.10 294.34 L211.50 295.42 L212.91 296.47 L214.31 297.49 L215.72 298.49 L217.12 299.47 L218.53 300.43 L219.94 301.37 L221.34 302.28 L222.75 303.17 L224.15 304.05 L225.56 304.90 L226.96 305.74 L228.37 306.55 L229.78 307.35 L231.18 308.13 L232.59 308.89 L233.99 309.63 L235.40 310.36 L236.80 311.07 L238.21 311.76 L239.62 312.44 L241.02 313.10 L242.43 313.74 L243.83 314.38 L245.24 314.99 L246.64 315.59 L248.05 316.18 L249.46 316.76 L250.86 317.32 L252.27 317.87 L253.67 318.40 L255.08 318.93 L256.48 319.44 L257.89 319.94 L259.30 320.42 L260.70 320.90 L262.11 321.37 L263.51 321.82 L264.92 322.26 L266.32 322.70 L267.73 323.12 L269.13 323.53 L270.54 323.93 L271.95 324.33 L273.35 324.71 L274.76 325.09 L276.16 325.45 L277.57 325.81 L278.97 326.16 L280.38 326.50 L281.79 326.83 L283.19 327.16 L284.60 327.47 L286.00 327.78 L287.41 328.08 L288.81 328.38 L290.22 328.67 L291.63 328.95 L293.03 329.22 L294.44 329.49 L295.84 329.75 L297.25 330.00 L298.65 330.25 L300.06 330.49 L301.47 330.73 L302.87 330.96 L304.28 331.19 L305.68 331.41 L307.09 331.62 L308.49 331.83 L309.90 332.03 L311.30 332.23 L312.71 332.43 L314.12 332.61 L315.52 332.80 L316.93 332.98 L318.33 333.16 L319.74 333.33 L321.14 333.49 L322.55 333.66 L323.96 333.82 L325.36 333.97 L326.77 334.12 L328.17 334.27 L329.58 334.41 L330.98 334.55 L332.39 334.69 L333.80 334.82 L335.20 334.95 L336.61 335.08 L338.01 335.21 L339.42 335.33 L340.82 335.44 L342.23 335.56 L343.64 335.67 L345.04 335.78 L346.45 335.88 L347.85 335.99 L349.26 336.09 L350.66 336.19 L352.07 336.28 L353.47 336.38 L354.88 336.47 L356.29 336.56 L357.69 336.64 L359.10 336.73 L360.50 336.81 L361.91 336.89 L363.31 336.97 L364.72 337.04 L366.13 337.11 L367.53 337.19 L368.94 337.26 L370.34 337.32 L371.75 337.39 L373.15 337.46 L374.56 337.52 L375.97 337.58 L377.37 337.64 L378.78 337.70 L380.18 337.75 L381.59 337.81 L382.99 337.86 L384.40 337.91 L385.80 337.97 L387.21 338.01 L388.62 338.06 L390.02 338.11 L391.43 338.15 L392.83 338.20 L394.24 338.24 L395.64 338.28 L397.05 338.32 L398.46 338.36 L399.86 338.40 L401.27 338.44 L402.67 338.48 L404.08 338.51 L405.48 338.55 L406.89 338.58 L408.30 338.61 L409.70 338.64 L411.11 338.67 L412.51 338.70 L413.92 338.73 L415.32 338.76 L416.73 338.79 L418.14 338.81 L419.54 338.84 L420.95 338.86 L422.35 338.89 L423.76 338.91 L425.16 338.93 L426.57 338.95 L427.97 338.98 L429.38 339.00 L430.79 339.02 L432.19 339.04 L433.60 339.05 L435.00 339.07 L436.41 339.09 L437.81 339.11 L439.22 339.12 L440.63 339.14 L442.03 339.15 L443.44 339.17 L444.84 339.18 L446.25 339.20 L447.65 339.21 L449.06 339.22 L450.47 339.23 L451.87 339.25 L453.28 339.26 L454.68 339.27 L456.09 339.28 L457.49 339.29 L458.90 339.30 L460.31 339.31 L461.71 339.32 L463.12 339.33 L470.14 339.36 L477.17 339.39 L484.20 339.41 L491.23 339.43 L498.26 339.44 L505.29 339.45 L512.32 339.45 L519.34 339.44 L526.37 339.44 L533.40 339.43 L540.43 339.41 L547.46 339.40 L554.49 339.38 L561.51 339.36 L568.54 339.34 L575.57 339.32 L582.60 339.30 L589.63 339.28 L596.65 339.25 L603.68 339.22 L610.71 339.20 L617.74 339.17 L624.77 339.14 L631.80 339.12 L638.83 339.09 L645.85 339.06 L652.88 339.03 L659.91 339.01 L666.94 338.98 L673.97 338.95 L681.00 338.92 L688.02 338.89 L695.05 338.87 L702.08 338.84 L709.11 338.81 L716.14 338.79 L723.16 338.76 L730.19 338.74 L737.22 338.71 L744.25 338.69 L751.28 338.66 L758.31 338.64 L765.34 338.62 L772.36 338.59 L779.39 338.57 L786.42 338.55 L793.45 338.53 L800.48 338.51 L807.50 338.49 L814.53 338.47 L821.56 338.45 L828.59 338.43 L835.62 338.42 L842.65 338.40 L849.67 338.38 L856.70 338.37 L863.73 338.35 L870.76 338.34 L877.79 338.32 L884.82 338.31 L891.85 338.30 L898.87 338.28 L905.90 338.27 L912.93 338.26 L919.96 338.25 L926.99 338.24 L934.01 338.23 L941.04 338.22 L948.07 338.21 L955.10 338.20"/>
<path d="M111.70 164.69 L113.11 168.42 L114.51 172.08 L115.92 175.66 L117.32 179.17 L118.73 182.61 L120.13 185.98 L121.54 189.28 L122.95 192.51 L124.35 195.69 L125.76 198.79 L127.16 201.84 L128.57 204.82 L129.97 207.74 L131.38 210.61 L132.78 213.41 L134.19 216.16 L135.60 218.85 L137.00 221.49 L138.41 224.07 L139.81 226.60 L141.22 229.08 L142.62 231.51 L144.03 233.89 L145.44 236.21 L146.84 238.49 L148.25 240.73 L149.65 242.91 L151.06 245.05 L152.46 247.15 L153.87 249.20 L155.28 251.21 L156.68 253.18 L158.09 255.11 L159.49 257.00 L160.90 258.84 L162.30 260.65 L163.71 262.42 L165.12 264.15 L166.52 265.85 L167.93 267.51 L169.33 269.13 L170.74 270.72 L172.14 272.28 L173.55 273.80 L174.95 275.30 L176.36 276.76 L177.77 278.18 L179.17 279.58 L180.58 280.95 L181.98 282.29 L183.39 283.60 L184.79 284.88 L186.20 286.13 L187.61 287.36 L189.01 288.56 L190.42 289.73 L191.82 290.88 L193.23 292.00 L194.63 293.10 L196.04 294.18 L197.45 295.23 L198.85 296.26 L200.26 297.26 L201.66 298.25 L203.07 299.21 L204.47 300.15 L205.88 301.07 L207.29 301.97 L208.69 302.85 L210.10 303.71 L211.50 304.55 L212.91 305.38 L214.31 306.18 L215.72 306.97 L217.12 307.74 L218.53 308.49 L219.94 309.23 L221.34 309.95 L222.75 310.65 L224.15 311.34 L225.56 312.01 L226.96 312.66 L228.37 313.31 L229.78 313.93 L231.18 314.55 L232.59 315.15 L233.99 315.73 L235.40 316.31 L236.80 316.87 L238.21 317.41 L239.62 317.95 L241.02 318.47 L242.43 318.98 L243.83 319.48 L245.24 319.97 L246.64 320.44 L248.05 320.91 L249.46 321.37 L250.86 321.81 L252.27 322.24 L253.67 322.67 L255.08 323.08 L256.48 323.49 L257.89 323.88 L259.30 324.27 L260.70 324.65 L262.11 325.02 L263.51 325.38 L264.92 325.73 L266.32 326.07 L267.73 326.41 L269.13 326.74 L270.54 327.06 L271.95 327.37 L273.35 327.67 L274.76 327.97 L276.16 328.26 L277.57 328.55 L278.97 328.83 L280.38 329.10 L281.79 329.36 L283.19 329.62 L284.60 329.87 L286.00 330.12 L287.41 330.36 L288.81 330.60 L290.22 330.83 L291.63 331.05 L293.03 331.27 L294.44 331.48 L295.84 331.69 L297.25 331.89 L298.65 332.09 L300.06 332.29 L301.47 332.48 L302.87 332.66 L304.28 332.84 L305.68 333.02 L307.09 333.19 L308.49 333.36 L309.90 333.52 L311.30 333.68 L312.71 333.83 L314.12 333.99 L315.52 334.13 L316.93 334.28 L318.33 334.42 L319.74 334.56 L321.14 334.69 L322.55 334.82 L323.96 334.95 L325.36 335.08 L326.77 335.20 L328.17 335.32 L329.58 335.43 L330.98 335.55 L332.39 335.66 L333.80 335.76 L335.20 335.87 L336.61 335.97 L338.01 336.07 L339.42 336.17 L340.82 336.26 L342.23 336.35 L343.64 336.44 L345.04 336.53 L346.45 336.62 L347.85 336.70 L349.26 336.78 L350.66 336.86 L352.07 336.94 L353.47 337.01 L354.88 337.09 L356.29 337.16 L357.69 337.23 L359.10 337.30 L360.50 337.36 L361.91 337.43 L363.31 337.49 L364.72 337.55 L366.13 337.61 L367.53 337.67 L368.94 337.73 L370.34 337.78 L371.75 337.84 L373.15 337.89 L374.56 337.94 L375.97 337.99 L377.37 338.04 L378.78 338.08 L380.18 338.13 L381.59 338.17 L382.99 338.22 L384.40 338.26 L385.80 338.30 L387.21 338.34 L388.62 338.38 L390.02 338.42 L391.43 338.45 L392.83 338.49 L394.24 338.53 L395.64 338.56 L397.05 338.59 L398.46 338.62 L399.86 338.65 L401.27 338.69 L402.67 338.71 L404.08 338.74 L405.48 338.77 L406.89 338.80 L408.30 338.82 L409.70 338.85 L411.11 338.87 L412.51 338.90 L413.92 338.92 L415.32 338.94 L416.73 338.97 L418.14 338.99 L419.54 339.01 L420.95 339.03 L422.35 339.05 L423.76 339.07 L425.16 339.08 L426.57 339.10 L427.97 339.12 L429.38 339.13 L430.79 339.15 L432.19 339.17 L433.60 339.18 L435.00 339.19 L436.41 339.21 L437.81 339.22 L439.22 339.24 L440.63 339.25 L442.03 339.26 L443.44 339.27 L444.84 339.28 L446.25 339.29 L447.65 339.30 L449.06 339.31 L450.47 339.32 L451.87 339.33 L453.28 339.34 L454.68 339.35 L456.09 339.36 L457.49 339.37 L458.90 339.37 L460.31 339.38 L461.71 339.39 L463.12 339.39 L470.14 339.42 L477.17 339.44 L484.20 339.46 L491.23 339.47 L498.26 339.47 L505.29 339.47 L512.32 339.47 L519.34 339.46 L526.37 339.45 L533.40 339.44 L540.43 339.43 L547.46 339.41 L554.49 339.39 L561.51 339.37 L568.54 339.35 L575.57 339.33 L582.60 339.30 L589.63 339.28 L596.65 339.25 L603.68 339.23 L610.71 339.20 L617.74 339.17 L624.77 339.15 L631.80 339.12 L638.83 339.09 L645.85 339.06 L652.88 339.03 L659.91 339.01 L666.94 338.98 L673.97 338.95 L681.00 338.92 L688.02 338.90 L695.05 338.87 L702.08 338.84 L709.11 338.81 L716.14 338.79 L723.16 338.76 L730.19 338.74 L737.22 338.71 L744.25 338.69 L751.28 338.66 L758.31 338.64 L765.34 338.62 L772.36 338.59 L779.39 338.57 L786.42 338.55 L793.45 338.53 L800.48 338.51 L807.50 338.49 L814.53 338.47 L821.56 338.45 L828.59 338.43 L835.62 338.42 L842.65 338.40 L849.67 338.38 L856.70 338.37 L863.73 338.35 L870.76 338.34 L877.79 338.32 L884.82 338.31 L891.85 338.30 L898.87 338.28 L905.90 338.27 L912.93 338.26 L919.96 338.25 L926.99 338.24 L934.01 338.23 L941.04 338.22 L948.07 338.21 L955.10 338.20"/>
<path d="M111.70 196.30 L113.11 199.32 L114.51 202.28 L115.92 205.19 L117.32 208.04 L118.73 210.83 L120.13 213.56 L121.54 216.25 L122.95 218.88 L124.35 221.46 L125.76 223.98 L127.16 226.46 L128.57 228.89 L129.97 231.27 L131.38 233.60 L132.78 235.88 L134.19 238.12 L135.60 240.32 L137.00 242.47 L138.41 244.58 L139.81 246.64 L141.22 248.66 L142.62 250.65 L144.03 252.59 L145.44 254.49 L146.84 256.35 L148.25 258.18 L149.65 259.97 L151.06 261.72 L152.46 263.43 L153.87 265.12 L155.28 266.76 L156.68 268.37 L158.09 269.95 L159.49 271.50 L160.90 273.01 L162.30 274.49 L163.71 275.95 L165.12 277.37 L166.52 278.76 L167.93 280.12 L169.33 281.46 L170.74 282.76 L172.14 284.04 L173.55 285.29 L174.95 286.52 L176.36 287.72 L177.77 288.89 L179.17 290.04 L180.58 291.16 L181.98 292.27 L183.39 293.34 L184.79 294.40 L186.20 295.43 L187.61 296.44 L189.01 297.43 L190.42 298.39 L191.82 299.34 L193.23 300.27 L194.63 301.17 L196.04 302.06 L197.45 302.93 L198.85 303.77 L200.26 304.60 L201.66 305.42 L203.07 306.21 L204.47 306.99 L205.88 307.75 L207.29 308.49 L208.69 309.22 L210.10 309.93 L211.50 310.62 L212.91 311.30 L214.31 311.97 L215.72 312.62 L217.12 313.25 L218.53 313.88 L219.94 314.48 L221.34 315.08 L222.75 315.66 L224.15 316.23 L225.56 316.78 L226.96 317.33 L228.37 317.86 L229.78 318.38 L231.18 318.88 L232.59 319.38 L233.99 319.87 L235.40 320.34 L236.80 320.80 L238.21 321.26 L239.62 321.70 L241.02 322.13 L242.43 322.56 L243.83 322.97 L245.24 323.37 L246.64 323.77 L248.05 324.15 L249.46 324.53 L250.86 324.90 L252.27 325.26 L253.67 325.61 L255.08 325.95 L256.48 326.29 L257.89 326.62 L259.30 326.94 L260.70 327.25 L262.11 327.56 L263.51 327.85 L264.92 328.15 L266.32 328.43 L267.73 328.71 L269.13 328.98 L270.54 329.25 L271.95 329.51 L273.35 329.76 L274.76 330.01 L276.16 330.25 L277.57 330.49 L278.97 330.72 L280.38 330.94 L281.79 331.16 L283.19 331.38 L284.60 331.58 L286.00 331.79 L287.41 331.99 L288.81 332.18 L290.22 332.37 L291.63 332.56 L293.03 332.74 L294.44 332.92 L295.84 333.09 L297.25 333.26 L298.65 333.43 L300.06 333.59 L301.47 333.74 L302.87 333.90 L304.28 334.05 L305.68 334.19 L307.09 334.33 L308.49 334.47 L309.90 334.61 L311.30 334.74 L312.71 334.87 L314.12 335.00 L315.52 335.12 L316.93 335.24 L318.33 335.36 L319.74 335.47 L321.14 335.58 L322.55 335.69 L323.96 335.80 L325.36 335.90 L326.77 336.00 L328.17 336.10 L329.58 336.20 L330.98 336.29 L332.39 336.38 L333.80 336.47 L335.20 336.56 L336.61 336.64 L338.01 336.72 L339.42 336.81 L340.82 336.88 L342.23 336.96 L343.64 337.04 L345.04 337.11 L346.45 337.18 L347.85 337.25 L349.26 337.32 L350.66 337.38 L352.07 337.45 L353.47 337.51 L354.88 337.57 L356.29 337.63 L357.69 337.69 L359.10 337.74 L360.50 337.80 L361.91 337.85 L363.31 337.90 L364.72 337.95 L366.13 338.00 L367.53 338.05 L368.94 338.10 L370.34 338.14 L371.75 338.19 L373.15 338.23 L374.56 338.27 L375.97 338.31 L377.37 338.35 L378.78 338.39 L380.18 338.43 L381.59 338.47 L382.99 338.50 L384.40 338.54 L385.80 338.57 L387.21 338.60 L388.62 338.64 L390.02 338.67 L391.43 338.70 L392.83 338.73 L394.24 338.75 L395.64 338.78 L397.05 338.81 L398.46 338.84 L399.86 338.86 L401.27 338.89 L402.67 338.91 L404.08 338.93 L405.48 338.96 L406.89 338.98 L408.30 339.00 L409.70 339.02 L411.11 339.04 L412.51 339.06 L413.92 339.08 L415.32 339.10 L416.73 339.11 L418.14 339.13 L419.54 339.15 L420.95 339.16 L422.35 339.18 L423.76 339.20 L425.16 339.21 L426.57 339.22 L427.97 339.24 L429.38 339.25 L430.79 339.26 L432.19 339.28 L433.60 339.29 L435.00 339.30 L436.41 339.31 L437.81 339.32 L439.22 339.33 L440.63 339.34 L442.03 339.35 L443.44 339.36 L444.84 339.37 L446.25 339.38 L447.65 339.39 L449.06 339.39 L450.47 339.40 L451.87 339.41 L453.28 339.41 L454.68 339.42 L456.09 339.43 L457.49 339.43 L458.90 339.44 L460.31 339.44 L461.71 339.45 L463.12 339.45 L470.14 339.47 L477.17 339.49 L484.20 339.50 L491.23 339.50 L498.26 339.50 L505.29 339.50 L512.32 339.49 L519.34 339.48 L526.37 339.47 L533.40 339.46 L540.43 339.44 L547.46 339.42 L554.49 339.40 L561.51 339.38 L568.54 339.36 L575.57 339.33 L582.60 339.31 L589.63 339.28 L596.65 339.26 L603.68 339.23 L610.71 339.20 L617.74 339.18 L624.77 339.15 L631.80 339.12 L638.83 339.09 L645.85 339.06 L652.88 339.04 L659.91 339.01 L666.94 338.98 L673.97 338.95 L681.00 338.92 L688.02 338.90 L695.05 338.87 L702.08 338.84 L709.11 338.81 L716.14 338.79 L723.16 338.76 L730.19 338.74 L737.22 338.71 L744.25 338.69 L751.28 338.66 L758.31 338.64 L765.34 338.62 L772.36 338.59 L779.39 338.57 L786.42 338.55 L793.45 338.53 L800.48 338.51 L807.50 338.49 L814.53 338.47 L821.56 338.45 L828.59 338.43 L835.62 338.42 L842.65 338.40 L849.67 338.38 L856.70 338.37 L863.73 338.35 L870.76 338.34 L877.79 338.32 L884.82 338.31 L891.85 338.30 L898.87 338.28 L905.90 338.27 L912.93 338.26 L919.96 338.25 L926.99 338.24 L934.01 338.23 L941.04 338.22 L948.07 338.21 L955.10 338.20"/>
</g>
<text transform="translate(99.90 26.60) scale(1.0000 1)" font-size="29.00" text-anchor="end" letter-spacing="1.30"><tspan class="o1">1</tspan></text>
<text transform="translate(99.90 188.20) scale(1.0000 1)" font-size="29.00" text-anchor="end" letter-spacing="1.30">0.5</text>
<text transform="translate(99.90 348.90) scale(1.0000 1)" font-size="29.00" text-anchor="end" letter-spacing="1.30">0</text>
<text transform="translate(99.90 510.90) scale(1.0000 1)" font-size="29.00" text-anchor="end" letter-spacing="1.30">-0.5</text>
<text transform="translate(99.90 673.30) scale(1.0000 1)" font-size="29.00" text-anchor="end" letter-spacing="1.30">-<tspan class="o1">1</tspan></text>
<text transform="translate(110.70 703.30) scale(1.0000 1)" font-size="29.00" text-anchor="middle" letter-spacing="1.00">0</text>
<text transform="translate(252.77 703.30) scale(1.0000 1)" font-size="29.00" text-anchor="middle" letter-spacing="1.00"><tspan class="o1">1</tspan></text>
<text transform="translate(392.33 703.30) scale(1.0000 1)" font-size="29.00" text-anchor="middle" letter-spacing="1.00">2</text>
<text transform="translate(532.30 703.30) scale(1.0000 1)" font-size="29.00" text-anchor="middle" letter-spacing="1.00">3</text>
<text transform="translate(673.47 703.30) scale(1.0000 1)" font-size="29.00" text-anchor="middle" letter-spacing="1.00">4</text>
<text transform="translate(815.03 703.30) scale(1.0000 1)" font-size="29.00" text-anchor="middle" letter-spacing="1.00">5</text>
<text transform="translate(955.60 703.30) scale(1.0000 1)" font-size="29.00" text-anchor="middle" letter-spacing="1.00">6</text>
<text transform="translate(525.26 750.80) scale(1.1000 1)" font-size="31.60" text-anchor="start" class="gk">η</text>
<g transform="translate(29.0 338.9) rotate(-90)"><text font-size="33.5" text-anchor="middle" letter-spacing="0.5">f'(<tspan class="gk">η</tspan>)</text></g>
<text transform="translate(477.77 54.00) scale(1.0000 1)" font-size="29.00" text-anchor="start" letter-spacing="1.00">n=<tspan class="o1">1</tspan>,</text>
<text transform="translate(548.58 54.00) scale(1.0000 1)" font-size="29.00" text-anchor="start" letter-spacing="1.00">S=2,</text>
<text transform="translate(620.82 54.00) scale(1.0000 1)" font-size="29.00" text-anchor="start" letter-spacing="1.00">M=0.<tspan class="o1">1</tspan>,</text>
<text transform="translate(726.92 54.00) scale(1.0000 1)" font-size="29.00" text-anchor="start" letter-spacing="1.00">Rd=0.<tspan class="o1">1</tspan>,</text>
<text transform="translate(844.62 54.00) scale(1.0000 1)" font-size="29.00" text-anchor="start" letter-spacing="1.00">Pr=6.2</text>
<text transform="translate(477.52 93.20) scale(1.0000 1)" font-size="29.00" text-anchor="start" letter-spacing="1.00">Ec=0.<tspan class="o1">1</tspan>,</text>
<text transform="translate(592.82 93.20) scale(1.0000 1)" font-size="29.00" text-anchor="start" letter-spacing="1.00">Du=0.2,</text>
<text transform="translate(712.28 93.20) scale(1.0000 1)" font-size="29.00" text-anchor="start" letter-spacing="1.00">Sc=0.2,</text>
<text transform="translate(842.78 93.20) scale(1.0000 1)" font-size="29.00" text-anchor="start" letter-spacing="1.00">=0.<tspan class="o1">1</tspan>,</text>
<text transform="translate(829.12 93.20) scale(1.3300 1)" font-size="26.70" text-anchor="start" class="gk">τ</text>
<text transform="translate(477.72 140.80) scale(1.0000 1)" font-size="29.00" text-anchor="start" letter-spacing="1.00">E</text>
<text transform="translate(514.08 140.80) scale(1.0000 1)" font-size="29.00" text-anchor="start" letter-spacing="1.00">=0.4,</text>
<text transform="translate(611.38 140.80) scale(1.0000 1)" font-size="29.00" text-anchor="start" letter-spacing="1.00">=0.5,</text>
<text transform="translate(720.98 140.80) scale(1.0000 1)" font-size="29.00" text-anchor="start" letter-spacing="1.00">=0.<tspan class="o1">1</tspan>,</text>
<text transform="translate(828.78 140.80) scale(1.0000 1)" font-size="29.00" text-anchor="start" letter-spacing="1.00">=0.0<tspan class="o1">1</tspan>,</text>
<text transform="translate(500.43 154.30) scale(1.0000 1)" font-size="23.50" text-anchor="start"><tspan class="o1">1</tspan></text>
<text transform="translate(814.22 154.30) scale(1.0000 1)" font-size="23.50" text-anchor="start">2</text>
<text transform="translate(709.62 127.10) scale(1.0000 1)" font-size="23.50" text-anchor="start">*</text>
<text transform="translate(595.55 140.80) scale(1.1500 1)" font-size="30.30" text-anchor="start" class="gk">λ</text>
<text transform="translate(693.55 140.80) scale(1.1500 1)" font-size="30.30" text-anchor="start" class="gk">λ</text>
<text transform="translate(801.04 140.80) scale(0.8200 1)" font-size="27.00" text-anchor="start" class="gk">ϵ</text>
<text transform="translate(477.52 192.80) scale(1.0000 1)" font-size="29.00" text-anchor="start" letter-spacing="1.00">K=<tspan class="o1">1</tspan>00,</text>
<text transform="translate(587.68 192.80) scale(1.0000 1)" font-size="29.00" text-anchor="start" letter-spacing="1.00">Sr=0.4,</text>
<text transform="translate(720.58 192.80) scale(1.0000 1)" font-size="29.00" text-anchor="start" letter-spacing="1.00">=0.3,</text>
<text transform="translate(800.23 192.80) scale(1.0000 1)" font-size="29.00" text-anchor="start" letter-spacing="1.00">Q=<tspan class="o1">1</tspan></text>
<text transform="translate(697.49 192.80) scale(0.9350 1)" font-size="31.30" text-anchor="start" class="gu">Ω</text>
<text transform="translate(164.74 191.60) scale(0.8200 1)" font-size="27.00" text-anchor="start" class="gk">ϵ</text>
<text transform="translate(177.56 205.00) scale(1.0000 1)" font-size="24.40" text-anchor="start"><tspan class="o1">1</tspan></text>
<text transform="translate(191.98 191.60) scale(1.0000 1)" font-size="29.00" text-anchor="start" letter-spacing="0.84">=0.0, 0.2, 0.4, 0.6</text>
<text transform="translate(345.14 519.00) scale(0.8200 1)" font-size="27.00" text-anchor="start" class="gk">ϵ</text>
<text transform="translate(357.96 532.40) scale(1.0000 1)" font-size="24.40" text-anchor="start"><tspan class="o1">1</tspan></text>
<text transform="translate(372.38 519.00) scale(1.0000 1)" font-size="29.00" text-anchor="start" letter-spacing="0.84">=0.0, 0.2, 0.4, 0.6</text>
<line x1="233.30" y1="228.40" x2="170.38" y2="323.50" stroke="#000" stroke-width="3.3"/><path d="M159.40 340.10L165.41 313.26L170.38 323.50L181.75 324.07Z" fill="#000"/>
<line x1="344.00" y1="474.30" x2="242.30" y2="358.08" stroke="#000" stroke-width="3.3"/><path d="M229.20 343.10L253.50 355.99L242.30 358.08L238.75 368.89Z" fill="#000"/>
<line x1="589.7" y1="594.0" x2="712.7" y2="594.0" stroke="#006c00" stroke-width="3.5"/>
<line x1="594.3" y1="630.8" x2="707.3" y2="630.8" stroke="#006c00" stroke-width="3" stroke-dasharray="12.8 12.2"/>
<text transform="translate(731.00 602.00) scale(1.3600 1)" font-size="28.60" text-anchor="start" class="gk">γ</text>
<text transform="translate(749.38 601.70) scale(1.0000 1)" font-size="29.00" text-anchor="start" letter-spacing="0.95">=<tspan class="o1">1</tspan> Stretching</text>
<text transform="translate(731.00 641.70) scale(1.3600 1)" font-size="28.60" text-anchor="start" class="gk">γ</text>
<text transform="translate(749.38 641.40) scale(1.0000 1)" font-size="29.00" text-anchor="start" letter-spacing="0.95">=-<tspan class="o1">1</tspan> Shrinking</text>
<g fill="#000"><path transform="matrix(1.0000 0.0000 0.0000 1.0000 99.900 26.600) translate(-17.438 0.000) scale(0.01416 -0.01416)" d="M586 0V1170L180 940V1110Q420 1250 590 1409H762V0Z"/><path transform="matrix(1.0000 0.0000 0.0000 1.0000 99.900 673.300) translate(-17.438 0.000) scale(0.01416 -0.01416)" d="M586 0V1170L180 940V1110Q420 1250 590 1409H762V0Z"/><path transform="matrix(1.0000 0.0000 0.0000 1.0000 252.770 703.300) translate(-8.570 0.000) scale(0.01416 -0.01416)" d="M586 0V1170L180 940V1110Q420 1250 590 1409H762V0Z"/><path transform="matrix(1.0000 0.0000 0.0000 1.0000 477.770 54.000) translate(35.078 0.000) scale(0.01416 -0.01416)" d="M586 0V1170L180 940V1110Q420 1250 590 1409H762V0Z"/><path transform="matrix(1.0000 0.0000 0.0000 1.0000 620.820 54.000) translate(69.281 0.000) scale(0.01416 -0.01416)" d="M586 0V1170L180 940V1110Q420 1250 590 1409H762V0Z"/><path transform="matrix(1.0000 0.0000 0.0000 1.0000 726.920 54.000) translate(83.203 0.000) scale(0.01416 -0.01416)" d="M586 0V1170L180 940V1110Q420 1250 590 1409H762V0Z"/><path transform="matrix(1.0000 0.0000 0.0000 1.0000 477.520 93.200) translate(79.969 0.000) scale(0.01416 -0.01416)" d="M586 0V1170L180 940V1110Q420 1250 590 1409H762V0Z"/><path transform="matrix(1.0000 0.0000 0.0000 1.0000 842.780 93.200) translate(44.125 0.000) scale(0.01416 -0.01416)" d="M586 0V1170L180 940V1110Q420 1250 590 1409H762V0Z"/><path transform="matrix(1.0000 0.0000 0.0000 1.0000 720.980 140.800) translate(44.125 0.000) scale(0.01416 -0.01416)" d="M586 0V1170L180 940V1110Q420 1250 590 1409H762V0Z"/><path transform="matrix(1.0000 0.0000 0.0000 1.0000 828.780 140.800) translate(61.250 0.000) scale(0.01416 -0.01416)" d="M586 0V1170L180 940V1110Q420 1250 590 1409H762V0Z"/><path transform="matrix(1.0000 0.0000 0.0000 1.0000 500.430 154.300) translate(0.000 0.000) scale(0.01147 -0.01147)" d="M586 0V1170L180 940V1110Q420 1250 590 1409H762V0Z"/><path transform="matrix(1.0000 0.0000 0.0000 1.0000 477.520 192.800) translate(38.281 0.000) scale(0.01416 -0.01416)" d="M586 0V1170L180 940V1110Q420 1250 590 1409H762V0Z"/><path transform="matrix(1.0000 0.0000 0.0000 1.0000 800.230 192.800) translate(41.500 0.000) scale(0.01416 -0.01416)" d="M586 0V1170L180 940V1110Q420 1250 590 1409H762V0Z"/><path transform="matrix(1.0000 0.0000 0.0000 1.0000 177.560 205.000) translate(0.000 0.000) scale(0.01191 -0.01191)" d="M586 0V1170L180 940V1110Q420 1250 590 1409H762V0Z"/><path transform="matrix(1.0000 0.0000 0.0000 1.0000 357.960 532.400) translate(0.000 0.000) scale(0.01191 -0.01191)" d="M586 0V1170L180 940V1110Q420 1250 590 1409H762V0Z"/><path transform="matrix(1.0000 0.0000 0.0000 1.0000 749.380 601.700) translate(17.891 0.000) scale(0.01416 -0.01416)" d="M586 0V1170L180 940V1110Q420 1250 590 1409H762V0Z"/><path transform="matrix(1.0000 0.0000 0.0000 1.0000 749.380 641.400) translate(28.500 0.000) scale(0.01416 -0.01416)" d="M586 0V1170L180 940V1110Q420 1250 590 1409H762V0Z"/></g></svg></body></html>
